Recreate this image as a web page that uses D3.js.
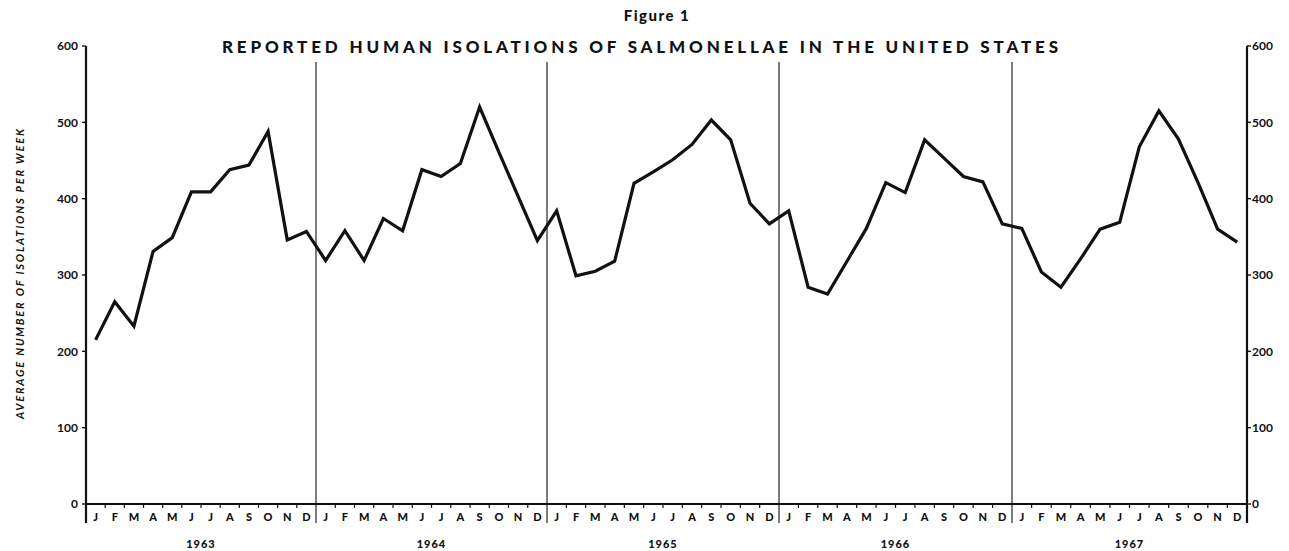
<!DOCTYPE html>
<html>
<head>
<meta charset="utf-8">
<script src="https://cdn.jsdelivr.net/npm/d3@7"></script>
<style>
  html, body { margin: 0; padding: 0; background: #ffffff; }
  svg { display: block; }
  text { font-family: Lato, "DejaVu Sans", sans-serif; fill: #111; }
</style>
</head>
<body>
<svg id="chart" width="1289" height="551"></svg>
<script>
// ---- data ----
const years = ["1963", "1964", "1965", "1966", "1967"];
const monthLabels = ["J","F","M","A","M","J","J","A","S","O","N","D"];
const values1963 = [215, 265, 233, 331, 349, 409, 409, 438, 444, 488, 346, 357];
const values1964 = [319, 358, 319, 374, 358, 438, 429, 446, 520, 461, 403, 345];
const values1965 = [384, 299, 305, 318, 420, 435, 451, 471, 503, 477, 394, 367];
const values1966 = [384, 284, 275, 318, 361, 421, 408, 477, 453, 429, 422, 367];
const values1967 = [361, 304, 284, 321, 360, 369, 468, 515, 478, 421, 360, 343];
const yTicks = [0, 100, 200, 300, 400, 500, 600];
const titleText = "REPORTED HUMAN ISOLATIONS OF SALMONELLAE IN THE UNITED STATES";
const figureText = "Figure 1";
const yAxisTitle = "AVERAGE NUMBER OF ISOLATIONS PER WEEK";

const series = [values1963, values1964, values1965, values1966, values1967];
const points = [];
series.forEach((vals, yi) => vals.forEach((v, mi) => points.push({ idx: yi * 12 + mi, v })));

// ---- layout ----
const svg = d3.select("#chart");
const x = d3.scaleLinear()
  .domain([0, 12, 24, 36, 48, 60])
  .range([86, 316, 547, 779, 1012, 1247]);
const y = d3.scaleLinear().domain([0, 600]).range([504, 46]);
const axisBottomExt = 523;
const sepTop = 62;

// year separators
svg.append("g").selectAll("line")
  .data(d3.range(1, years.length))
  .join("line")
  .attr("x1", d => x(d * 12)).attr("x2", d => x(d * 12))
  .attr("y1", sepTop).attr("y2", axisBottomExt)
  .attr("stroke", "#111").attr("stroke-width", 1.1);

// x axis baseline
svg.append("line")
  .attr("x1", x(0)).attr("x2", x(60))
  .attr("y1", y(0)).attr("y2", y(0))
  .attr("stroke", "#111").attr("stroke-width", 2.2);

// month boundary ticks
svg.append("g").selectAll("line")
  .data(d3.range(1, 60).filter(d => d % 12 !== 0))
  .join("line")
  .attr("x1", d => x(d)).attr("x2", d => x(d))
  .attr("y1", y(0)).attr("y2", y(0) + 4)
  .attr("stroke", "#111").attr("stroke-width", 1.2);

// left and right axes
[x(0), x(60)].forEach((ax, i) => {
  svg.append("line")
    .attr("x1", ax).attr("x2", ax)
    .attr("y1", y(600)).attr("y2", axisBottomExt)
    .attr("stroke", "#111").attr("stroke-width", 2.2);
  const dir = i === 0 ? -1 : 1;
  svg.append("g").selectAll("line")
    .data(yTicks)
    .join("line")
    .attr("x1", ax).attr("x2", ax + dir * 4)
    .attr("y1", d => y(d)).attr("y2", d => y(d))
    .attr("stroke", "#111").attr("stroke-width", 1.4);
  svg.append("g").selectAll("text")
    .data(yTicks)
    .join("text")
    .attr("x", i === 0 ? ax - 8 : ax + 5)
    .attr("y", d => y(d))
    .attr("dy", "0.35em")
    .attr("text-anchor", i === 0 ? "end" : "start")
    .attr("font-size", 12)
    .attr("font-weight", 700)
    .attr("fill", "#222")
    .text(d => d);
});

// month labels
const monthData = d3.range(60).map(i => ({ i, label: monthLabels[i % 12] }));
svg.append("g").selectAll("text")
  .data(monthData)
  .join("text")
  .attr("x", d => x(d.i + 0.5))
  .attr("y", 517)
  .attr("dy", "0.35em")
  .attr("text-anchor", "middle")
  .attr("font-size", 11)
  .attr("font-weight", 900)
  .text(d => d.label);

// year labels
svg.append("g").selectAll("text")
  .data(years)
  .join("text")
  .attr("x", (d, i) => x(i * 12 + 6))
  .attr("y", 544)
  .attr("dy", "0.35em")
  .attr("text-anchor", "middle")
  .attr("font-size", 11)
  .attr("font-weight", 900)
  .attr("letter-spacing", 1)
  .text(d => d);

// data line
const line = d3.line()
  .x(d => x(d.idx + 0.5))
  .y(d => y(d.v));
svg.append("path")
  .datum(points)
  .attr("d", line)
  .attr("fill", "none")
  .attr("stroke", "#111")
  .attr("stroke-width", 3.2)
  .attr("stroke-linejoin", "miter");

// titles
svg.append("text")
  .attr("x", 657).attr("y", 16)
  .attr("dy", "0.35em")
  .attr("text-anchor", "middle")
  .attr("font-size", 15)
  .attr("font-weight", 900)
  .attr("letter-spacing", 1.5)
  .text(figureText);

svg.append("text")
  .attr("x", 222).attr("y", 47)
  .attr("dy", "0.35em")
  .attr("font-size", 17)
  .attr("font-weight", 900)
  .attr("textLength", 836)
  .attr("lengthAdjust", "spacing")
  .text(titleText);

// y axis title
svg.append("text")
  .attr("transform", "translate(20,274) rotate(-90)")
  .attr("text-anchor", "middle")
  .attr("dy", "0.35em")
  .attr("font-size", 11)
  .attr("font-weight", 700)
  .attr("font-style", "italic")
  .attr("fill", "#222")
  .attr("textLength", 290)
  .attr("lengthAdjust", "spacing")
  .text(yAxisTitle);
</script>
</body>
</html>
